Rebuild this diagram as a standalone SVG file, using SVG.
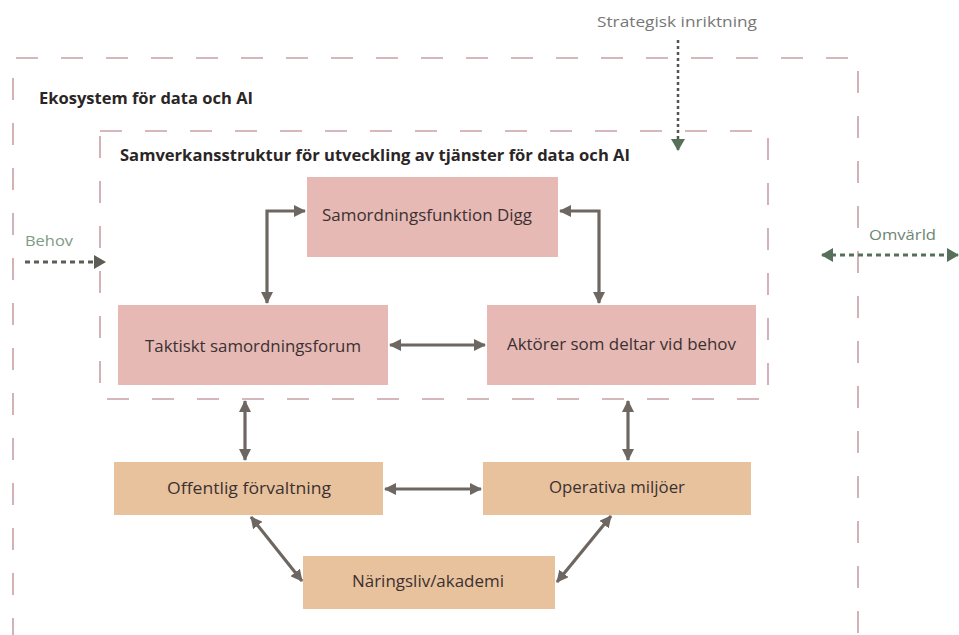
<svg xmlns="http://www.w3.org/2000/svg" width="959" height="635" viewBox="0 0 959 635">
<style>
.frame{fill:none;stroke:#c9a0a6;stroke-width:1.6;stroke-dasharray:22 23}
.pink{fill:#e6b9b5}
.tan{fill:#e8c29d}
.lbl{font-family:"Open Sans","Noto Sans",sans-serif;font-size:15.5px;fill:#3b3131}
.title{font-family:"Open Sans","Noto Sans",sans-serif;font-size:15.5px;font-weight:bold;fill:#2b2626}
.side{font-family:"Open Sans","Noto Sans",sans-serif;font-size:14.5px}
.conn{fill:none;stroke:#6e6761;stroke-width:3.2}
</style>
<defs>
<marker id="ah" viewBox="0 0 12 12" refX="11" refY="6" markerWidth="12" markerHeight="12" markerUnits="userSpaceOnUse" orient="auto-start-reverse"><path d="M0,0 L12,6 L0,12 Z" fill="#6e6761"/></marker>
<marker id="ag" viewBox="0 0 12 14" refX="11" refY="7" markerWidth="12" markerHeight="14" markerUnits="userSpaceOnUse" orient="auto-start-reverse"><path d="M0,0 L12,7 L0,14 Z" fill="#56705a"/></marker>
<marker id="ad" viewBox="0 0 12 14" refX="11" refY="7" markerWidth="12" markerHeight="14" markerUnits="userSpaceOnUse" orient="auto-start-reverse"><path d="M0,0 L12,7 L0,14 Z" fill="#5d5d56"/></marker>
</defs>
<g id="ekosystem">
<path class="frame" d="M13,640 L13,58 L858,58 L858,640"/>
<text class="title" x="39" y="104" textLength="214" lengthAdjust="spacingAndGlyphs">Ekosystem för data och AI</text>
</g>
<g id="samverkansstruktur">
<rect class="frame" x="100" y="131" width="668" height="268"/>
<text class="title" x="120" y="161" textLength="510" lengthAdjust="spacingAndGlyphs">Samverkansstruktur för utveckling av tjänster för data och AI</text>
</g>
<g id="digg"><rect class="pink" x="307" y="177" width="251" height="80"/><text class="lbl" x="322" y="221" textLength="210" lengthAdjust="spacingAndGlyphs">Samordningsfunktion Digg</text></g>
<g id="taktiskt"><rect class="pink" x="118" y="305" width="270" height="80"/><text class="lbl" x="145" y="352" textLength="216" lengthAdjust="spacingAndGlyphs">Taktiskt samordningsforum</text></g>
<g id="aktorer"><rect class="pink" x="487" y="305" width="269" height="80"/><text class="lbl" x="507" y="350" textLength="229" lengthAdjust="spacingAndGlyphs">Aktörer som deltar vid behov</text></g>
<g id="offentlig"><rect class="tan" x="114" y="462" width="269" height="53"/><text class="lbl" x="167" y="494" textLength="164" lengthAdjust="spacingAndGlyphs">Offentlig förvaltning</text></g>
<g id="operativa"><rect class="tan" x="483" y="462" width="268" height="53"/><text class="lbl" x="549" y="493" textLength="136" lengthAdjust="spacingAndGlyphs">Operativa miljöer</text></g>
<g id="naringsliv"><rect class="tan" x="303" y="556" width="252" height="53"/><text class="lbl" x="352" y="587" textLength="152" lengthAdjust="spacingAndGlyphs">Näringsliv/akademi</text></g>
<g id="strategisk"><text class="side" x="597" y="27" fill="#777777" textLength="160" lengthAdjust="spacingAndGlyphs">Strategisk inriktning</text></g>
<g id="behov"><text class="side" x="25" y="246" fill="#7f9a84" textLength="48" lengthAdjust="spacingAndGlyphs">Behov</text></g>
<g id="omvarld"><text class="side" x="869" y="240" fill="#6f8574" textLength="67" lengthAdjust="spacingAndGlyphs">Omvärld</text></g>
<g id="connectors">
<path class="conn" d="M305,211 L267,211 L267,303" marker-start="url(#ah)" marker-end="url(#ah)"/>
<path class="conn" d="M560,211 L599,211 L599,303" marker-start="url(#ah)" marker-end="url(#ah)"/>
<path class="conn" d="M390,345 L485,345" marker-start="url(#ah)" marker-end="url(#ah)"/>
<path class="conn" d="M245,401 L245,460" marker-start="url(#ah)" marker-end="url(#ah)"/>
<path class="conn" d="M628,401 L628,460" marker-start="url(#ah)" marker-end="url(#ah)"/>
<path class="conn" d="M385,489 L481,489" marker-start="url(#ah)" marker-end="url(#ah)"/>
<path class="conn" d="M251,517 L302,581" marker-start="url(#ah)" marker-end="url(#ah)"/>
<path class="conn" d="M611,516 L557,582" marker-start="url(#ah)" marker-end="url(#ah)"/>
<path d="M678,40 L678,150" fill="none" stroke="#55554f" stroke-width="2.5" stroke-dasharray="3 3" marker-end="url(#ag)"/>
<path d="M25,262 L105,262" fill="none" stroke="#5d5d56" stroke-width="2.8" stroke-dasharray="5 4" marker-end="url(#ad)"/>
<path d="M822,255 L958,255" fill="none" stroke="#56705a" stroke-width="2.8" stroke-dasharray="5 4" marker-start="url(#ag)" marker-end="url(#ag)"/>
</g>
</svg>
